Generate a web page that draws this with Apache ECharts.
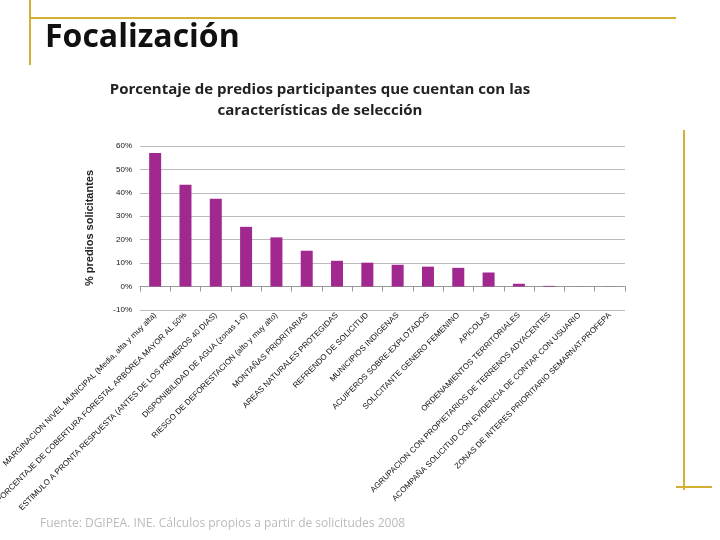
<!DOCTYPE html><html><head><meta charset="utf-8"><script src="https://cdn.jsdelivr.net/npm/echarts@6/dist/echarts.min.js"></script></head><body style="margin:0"><div id="c" style="width:720px;height:540px"></div><script>
const categories=["MARGINACION NIVEL MUNICIPAL (Media, alta y muy alta)","PORCENTAJE DE COBERTURA FORESTAL ARBÓREA MAYOR AL 50%","ESTIMULO A PRONTA RESPUESTA (ANTES DE LOS PRIMEROS 40 DIAS)","DISPONIBILIDAD DE AGUA (zonas 1-6)","RIESGO DE DEFORESTACION (alto y muy alto)","MONTAÑAS PRIORITARIAS","AREAS NATURALES PROTEGIDAS","REFRENDO DE SOLICITUD","MUNICIPIOS INDIGENAS","ACUIFEROS SOBRE-EXPLOTADOS","SOLICITANTE GENERO FEMENINO","APICOLAS","ORDENAMIENTOS TERRITORIALES","AGRUPACION CON PROPIETARIOS DE TERRENOS ADYACENTES","ACOMPAÑA SOLICITUD CON EVIDENCIA DE CONTAR CON USUARIO","ZONAS DE INTERES PRIORITARIO SEMARNAT-PROFEPA"];
const values=[57,43.5,37.5,25.5,21,15.3,11,10.2,9.3,8.5,8,6,1.2,0.3,0.05,0.05];
const ch=echarts.init(document.getElementById('c'));
ch.setOption({
title:{text:'Porcentaje de predios participantes que cuentan con las\ncaracterísticas de selección',left:315,top:74,textAlign:'center',textStyle:{fontSize:15,fontWeight:'bold',color:'#222',lineHeight:21,fontFamily:'Open Sans'}},
grid:{left:140,right:95,top:146,bottom:230,outerBoundsMode:'none',containLabel:false},
xAxis:{type:'category',data:categories,axisLine:{onZero:true,lineStyle:{color:'#999'}},axisTick:{show:true,lineStyle:{color:'#999'}},axisLabel:{rotate:45,fontSize:8,color:'#111',interval:0,margin:4}},
yAxis:{type:'value',min:-10,max:60,interval:10,axisLabel:{formatter:'{value}%',fontSize:8,color:'#111'},splitLine:{lineStyle:{color:'#bbb'}},axisLine:{show:false},name:'% predios solicitantes',nameLocation:'middle',nameGap:45,nameTextStyle:{fontSize:11,fontWeight:'bold',color:'#222'}},
series:[{type:'bar',data:values,barWidth:12,itemStyle:{color:'#a0288f'}}],
graphic:[
{type:'text',left:45,top:22,style:{text:'Focalización',font:'bold 32px "Open Sans"',fill:'#111'}},
{type:'line',shape:{x1:30,y1:18,x2:676,y2:18},style:{stroke:'#d4b030',lineWidth:2}},
{type:'line',shape:{x1:30,y1:0,x2:30,y2:65},style:{stroke:'#d4b030',lineWidth:2}},
{type:'line',shape:{x1:684,y1:130,x2:684,y2:490},style:{stroke:'#d4b030',lineWidth:2}},
{type:'line',shape:{x1:676,y1:487,x2:712,y2:487},style:{stroke:'#d4b030',lineWidth:2}},
{type:'text',left:40,top:518,style:{text:'Fuente: DGIPEA. INE. Cálculos propios a partir de solicitudes 2008',font:'12px "Open Sans"',fill:'#bbb'}}
]});
</script></body></html>
